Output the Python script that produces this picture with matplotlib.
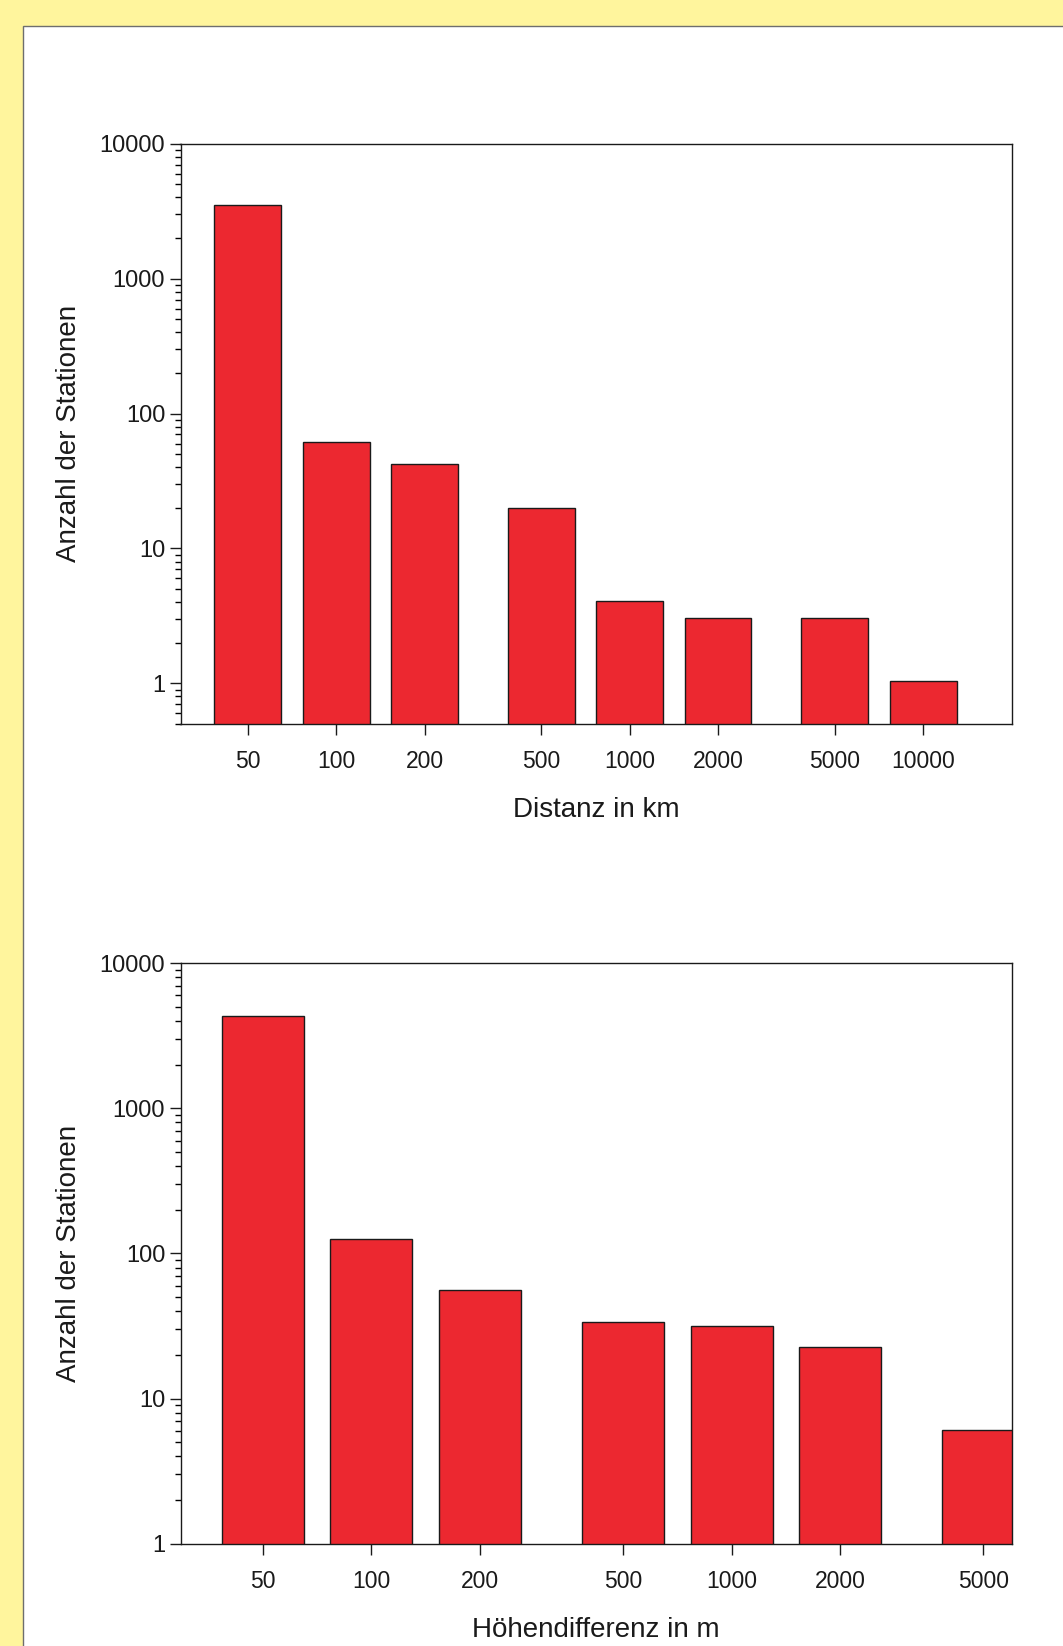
import matplotlib
matplotlib.use("Agg")
import matplotlib.pyplot as plt
from matplotlib.patches import Rectangle
from matplotlib.ticker import LogLocator, NullFormatter, FixedLocator, FixedFormatter, NullLocator

plt.rcParams['font.family'] = ['Liberation Sans', 'DejaVu Sans']

# Station counts by distance class (km)
dist_classes = [50, 100, 200, 500, 1000, 2000, 5000, 10000]
dist_counts = [3500, 62, 42, 20, 4, 3, 3, 1]
dist_labels = ["50", "100", "200", "500", "1000", "2000", "5000", "10000"]

# Station counts by height-difference class (m)
height_classes = [50, 100, 200, 500, 1000, 2000, 5000]
height_counts = [4350, 125, 56, 33.6, 31.4, 22.5, 6]
height_labels = ["50", "100", "200", "500", "1000", "2000", "5000"]

W, H = 1063, 1646
fig = plt.figure(figsize=(W / 100, H / 100), dpi=100)
fig.patch.set_facecolor('#FFF59D')

# white panel with thin grey border
fig.patches.append(Rectangle((23 / W, -0.1), 1.2, 1.1 - 26 / H, transform=fig.transFigure,
                             facecolor='white', edgecolor='#6E6E6E', linewidth=1.0, zorder=-10))

BAR_COLOR = '#EC2830'
FACTOR = 1.3  # bar spans centre/FACTOR .. centre*FACTOR on the log axis


def draw_panel(rect, classes, counts, labels, xlim, ylim, xlabel):
    ax = fig.add_axes(rect)
    ax.set_zorder(5)
    ax.patch.set_alpha(0)
    ax.set_xscale('log')
    ax.set_yscale('log')
    lefts = [c / FACTOR for c in classes]
    widths = [c * FACTOR - c / FACTOR for c in classes]
    ax.bar(lefts, counts, width=widths, align='edge', bottom=ylim[0] * 0.1,
           color=BAR_COLOR, edgecolor='#1a1a1a', linewidth=1.0, zorder=2)
    ax.set_xlim(*xlim)

    ax.xaxis.set_major_locator(FixedLocator(classes))
    ax.xaxis.set_major_formatter(FixedFormatter(labels))
    ax.xaxis.set_minor_locator(NullLocator())

    yt = [1, 10, 100, 1000, 10000]
    ax.set_yticks(yt)
    ax.set_yticklabels([str(v) for v in yt])
    ax.yaxis.set_minor_locator(LogLocator(base=10, subs=range(2, 10), numticks=20))
    ax.yaxis.set_minor_formatter(NullFormatter())
    ax.set_ylim(*ylim)

    ax.tick_params(axis='x', which='major', direction='out', length=8, width=1.0,
                   pad=11, labelsize=16.5, colors='#1a1a1a')
    ax.tick_params(axis='y', which='major', direction='out', length=8, width=1.0,
                   pad=3, labelsize=17, colors='#1a1a1a')
    ax.tick_params(axis='y', which='minor', direction='out', length=4, width=1.0)
    for s in ax.spines.values():
        s.set_linewidth(1.0)
        s.set_color('#1a1a1a')
    ax.set_xlabel(xlabel, fontsize=20, labelpad=17, color='#1a1a1a')
    ax.set_ylabel('Anzahl der Stationen', fontsize=20, labelpad=13, color='#1a1a1a')
    return ax


left = 180.5 / W
width = (1011.6 - 180.5) / W

draw_panel([left, 1 - 724 / H, width, (724 - 143.8) / H],
           dist_classes, dist_counts, dist_labels,
           (29.5, 20000), (0.5, 10000), 'Distanz in km')

draw_panel([left, 1 - 1543.6 / H, width, (1543.6 - 963.3) / H],
           height_classes, height_counts, height_labels,
           (29.5, 5990), (1, 10000), 'Höhendifferenz in m')

fig.savefig('out.png', dpi=100, facecolor=fig.get_facecolor())
